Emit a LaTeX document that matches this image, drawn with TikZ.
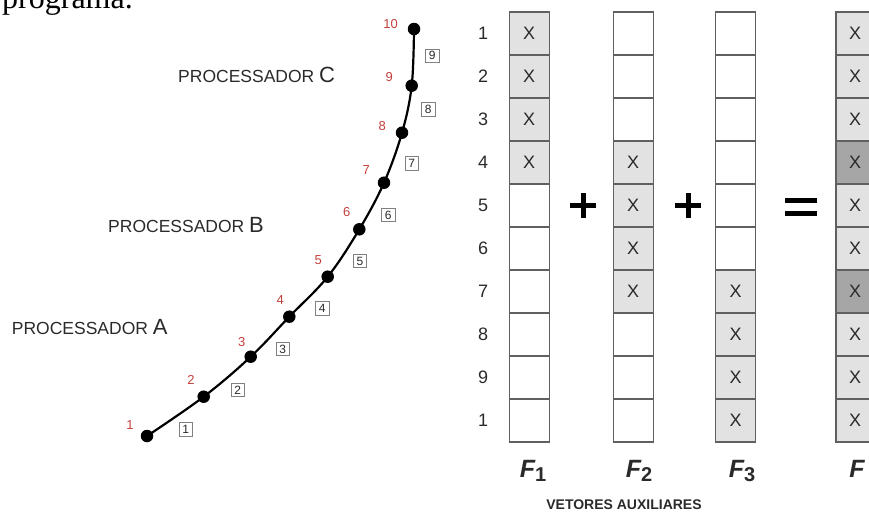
\documentclass[tikz,border=0pt]{standalone}
\usepackage{fontspec}
\setmainfont{Liberation Sans}
\newfontfamily\serifF{Liberation Serif}
\definecolor{cellline}{HTML}{606060}
\definecolor{lt}{HTML}{E2E2E2}
\definecolor{dk}{HTML}{A6A6A6}
\definecolor{txt}{HTML}{2A2A2A}
\definecolor{redc}{HTML}{C4403C}
\begin{document}
\begin{tikzpicture}[x=1pt,y=-1pt,
  cell/.style={draw=cellline, line width=1.1pt, minimum width=40pt, minimum height=43pt, inner sep=0pt, font=\fontsize{18}{18}\selectfont, text=txt},
  dot/.style={circle, fill=black, inner sep=0pt, minimum size=12.5pt},
  redlbl/.style={text=redc, inner sep=0pt, font=\fontsize{13}{13}\selectfont},
  boxlbl/.style={draw=gray, fill=white, line width=0.7pt, inner sep=0pt, minimum width=13.5pt, minimum height=13.5pt, font=\fontsize{12}{12}\selectfont, text=txt},
  rowlbl/.style={inner sep=0pt, text=txt, font=\fontsize{18}{18}\selectfont},
  proc/.style={anchor=base west, inner sep=0pt, text=txt},
  flbl/.style={inner sep=0pt, text=txt, font=\fontsize{25}{25}\selectfont\bfseries\itshape},
  opbar/.style={line width=5pt, draw=black}
]
\useasboundingbox (0,0) rectangle (869,520);
\clip (0,0) rectangle (869,520);

% top text fragment
\node[anchor=base west, inner sep=0pt, font=\serifF\fontsize{32}{32}\selectfont] (prog) at (2,8) {programa.};

% curve
\node[dot] (d1) at (147,436) {};
\node[dot] (d2) at (203.7,396.7) {};
\node[dot] (d3) at (250.7,356.7) {};
\node[dot] (d4) at (289.3,316.7) {};
\node[dot] (d5) at (327.7,276.7) {};
\node[dot] (d6) at (359.3,229.3) {};
\node[dot] (d7) at (384,182.7) {};
\node[dot] (d8) at (402,132.7) {};
\node[dot] (d9) at (411.7,85.7) {};
\node[dot] (d10) at (414,29) {};
\draw[line width=2.2pt] plot[smooth, tension=0.6] coordinates {(d1) (d2) (d3) (d4) (d5) (d6) (d7) (d8) (d9) (d10)};

% red point numbers
\node[redlbl] (r1) at (130,425) {1};
\node[redlbl] (r2) at (191,380) {2};
\node[redlbl] (r3) at (241.7,341.7) {3};
\node[redlbl] (r4) at (280.3,300) {4};
\node[redlbl] (r5) at (318.3,260) {5};
\node[redlbl] (r6) at (346.7,212) {6};
\node[redlbl] (r7) at (366.3,170) {7};
\node[redlbl] (r8) at (382.3,126) {8};
\node[redlbl] (r9) at (389.3,77.3) {9};
\node[redlbl] (r10) at (390.7,24) {10};

% boxed segment numbers
\node[boxlbl] (b1) at (185.7,429.3) {1};
\node[boxlbl] (b2) at (237.7,390) {2};
\node[boxlbl] (b3) at (282.7,349) {3};
\node[boxlbl] (b4) at (322.3,308.3) {4};
\node[boxlbl] (b5) at (360,261) {5};
\node[boxlbl] (b6) at (388.3,215) {6};
\node[boxlbl] (b7) at (411.7,163.3) {7};
\node[boxlbl] (b8) at (428.3,109.3) {8};
\node[boxlbl] (b9) at (432.3,55.7) {9};

% processor labels
\node[proc] (pc) at (178,82) {\fontsize{17.5}{17.5}\selectfont PROCESSADOR {\fontsize{22}{22}\selectfont C}};
\node[proc] (pb) at (108,232) {\fontsize{17.5}{17.5}\selectfont PROCESSADOR {\fontsize{22}{22}\selectfont B}};
\node[proc] (pa) at (11.7,334) {\fontsize{17.5}{17.5}\selectfont PROCESSADOR {\fontsize{22}{22}\selectfont A}};

% row labels
\foreach \i/\t in {1/1,2/2,3/3,4/4,5/5,6/6,7/7,8/8,9/9,10/1}{
  \node[rowlbl] (row\i) at (483,{12+43*(\i-0.5)}) {\t};
}

% column F1
\foreach \i/\f/\t in {1/lt/X,2/lt/X,3/lt/X,4/lt/X,5/white/,6/white/,7/white/,8/white/,9/white/,10/white/}{
  \node[cell, fill=\f] (a\i) at (529.2,{12+43*(\i-0.5)}) {\t};
}
% column F2
\foreach \i/\f/\t in {1/white/,2/white/,3/white/,4/lt/X,5/lt/X,6/lt/X,7/lt/X,8/white/,9/white/,10/white/}{
  \node[cell, fill=\f] (b\i) at (633.2,{12+43*(\i-0.5)}) {\t};
}
% column F3
\foreach \i/\f/\t in {1/white/,2/white/,3/white/,4/white/,5/white/,6/white/,7/lt/X,8/lt/X,9/lt/X,10/lt/X}{
  \node[cell, fill=\f] (c\i) at (735.7,{12+43*(\i-0.5)}) {\t};
}
% column F
\foreach \i/\f in {1/lt,2/lt,3/lt,4/dk,5/lt,6/lt,7/dk,8/lt,9/lt,10/lt}{
  \node[cell, fill=\f] (f\i) at (856,{12+43*(\i-0.5)}) {\hspace*{-2pt}X};
}

% operators
\draw[opbar] (570,205.5) -- (596,205.5);
\draw[opbar] (583,193) -- (583,218);
\draw[opbar] (675,205.5) -- (701,205.5);
\draw[opbar] (688,193) -- (688,218);
\fill (785,198) rectangle (817,203);
\fill (785,210.5) rectangle (817,215.5);

% column names
\node[flbl] (n1) at (533,471) {F\raisebox{-4pt}{\fontsize{20}{20}\selectfont\bfseries\upshape 1}};
\node[flbl] (n2) at (639,471) {F\raisebox{-4pt}{\fontsize{20}{20}\selectfont\bfseries\upshape 2}};
\node[flbl] (n3) at (742,471) {F\raisebox{-4pt}{\fontsize{20}{20}\selectfont\bfseries\upshape 3}};
\node[flbl] (n4) at (857,469) {F};
\node[inner sep=0pt, text=txt, font=\fontsize{14}{14}\selectfont\bfseries] (vet) at (624,505) {VETORES AUXILIARES};
\end{tikzpicture}
\end{document}
